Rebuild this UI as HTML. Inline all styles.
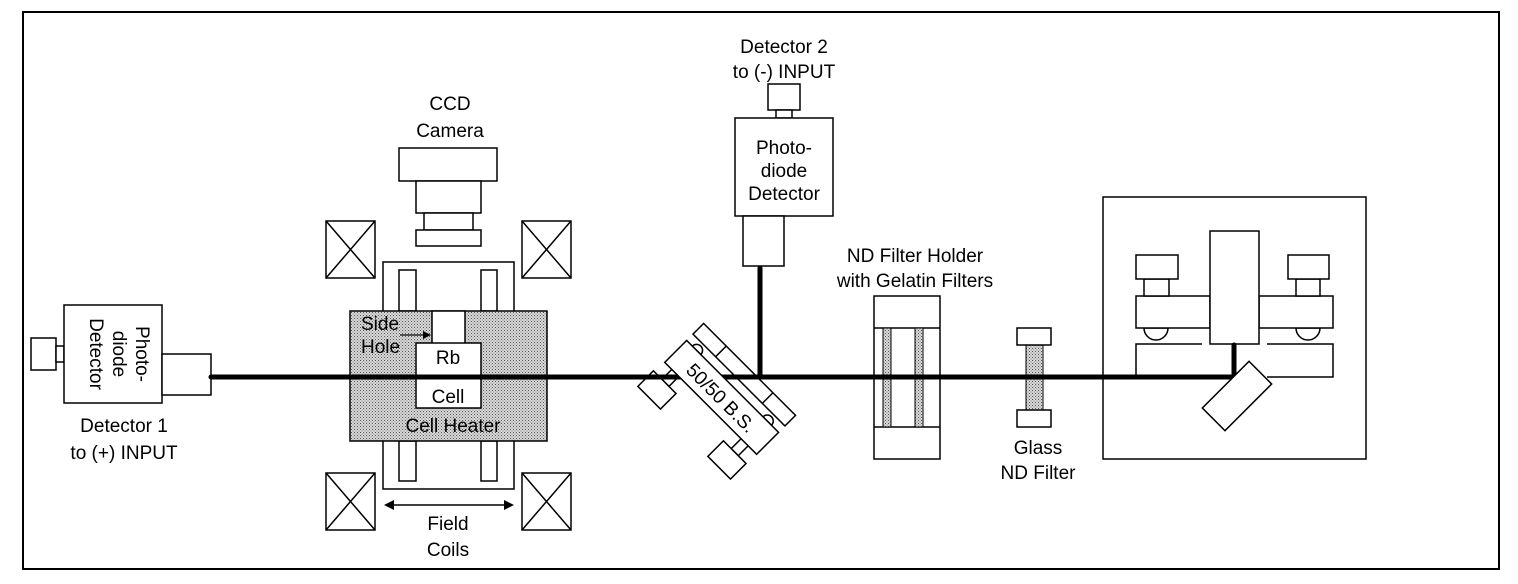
<!DOCTYPE html>
<html><head><meta charset="utf-8"><style>
html,body{margin:0;padding:0;background:#fff;}
svg{display:block;}
text{font-family:"Liberation Sans",Arial,sans-serif;font-size:19px;fill:#000;}
</style></head><body>
<svg width="1518" height="584" viewBox="0 0 1518 584" xmlns="http://www.w3.org/2000/svg">
<defs>
<pattern id="dots" width="3" height="3" patternUnits="userSpaceOnUse">
<rect width="3" height="3" fill="#d8d8d8"/><rect width="1" height="1" fill="#555"/><rect x="1.5" y="1.5" width="1" height="1" fill="#777"/>
</pattern>
</defs>
<g fill="none" stroke="#000" stroke-width="1.5">
<rect x="23" y="12" width="1476" height="557" stroke-width="2"/>

<rect x="31" y="338" width="25" height="32" fill="#fff"/>
<rect x="56" y="346" width="8" height="16" fill="#fff"/>
<rect x="64" y="305" width="98" height="98" fill="#fff"/>
<rect x="162" y="354" width="49" height="41" fill="#fff"/>

<rect x="399" y="148" width="98" height="33" fill="#fff"/>
<rect x="416" y="181" width="65" height="32" fill="#fff"/>
<rect x="424" y="213" width="49" height="17" fill="#fff"/>
<rect x="416" y="230" width="65" height="16" fill="#fff"/>

<rect x="326" y="221" width="49" height="57"/><path d="M326 221L375 278M375 221L326 278"/>
<rect x="522" y="221" width="49" height="57"/><path d="M522 221L571 278M571 221L522 278"/>
<rect x="326" y="473" width="49" height="57"/><path d="M326 473L375 530M375 473L326 530"/>
<rect x="522" y="473" width="49" height="57"/><path d="M522 473L571 530M571 473L522 530"/>

<rect x="383" y="262" width="131" height="227"/>
<rect x="399" y="270" width="17" height="41"/>
<rect x="481" y="270" width="16" height="41"/>
<rect x="399" y="441" width="17" height="40"/>
<rect x="481" y="441" width="16" height="40"/>
<rect x="350" y="311" width="197" height="130" fill="url(#dots)"/>
<rect x="432" y="311" width="33" height="33" fill="#fff"/>
<rect x="416" y="343" width="65" height="65" fill="#fff"/>
</g>
<path d="M392 505H506" stroke="#000" stroke-width="1.5"/>
<path d="M384 505L394 500V510Z M514 505L504 500V510Z" fill="#000"/>
<path d="M400 335H424" stroke="#000" stroke-width="1.3"/>
<path d="M431 335L423 331V339Z" fill="#000"/>

<g fill="#fff" stroke="#000" stroke-width="1.5">
<rect x="768" y="84" width="32" height="26"/>
<rect x="776" y="110" width="16" height="8"/>
<rect x="735" y="118" width="98" height="98"/>
<rect x="743" y="216" width="41" height="50"/>

<rect x="874" y="296" width="66" height="163"/>
<path d="M874 328H940M874 427H940" fill="none"/>
<rect x="883" y="328" width="8" height="99" fill="url(#dots)" stroke-width="1"/>
<rect x="915" y="328" width="8" height="99" fill="url(#dots)" stroke-width="1"/>

<rect x="1026" y="345" width="17" height="65" fill="url(#dots)" stroke-width="1"/>
<rect x="1017" y="328" width="34" height="17"/>
<rect x="1017" y="410" width="34" height="17"/>

<rect x="1103" y="197" width="263" height="262" fill="none"/>
<path d="M1136 377V344H1202M1267 344H1333V377H1267" fill="none"/>
<path d="M1144 328A12 12 0 0 0 1168 328Z M1296 328A12 12 0 0 0 1320 328Z"/>
<rect x="1136" y="296" width="74" height="32"/>
<rect x="1259" y="296" width="74" height="32"/>
<rect x="1144" y="279" width="25" height="17"/>
<rect x="1296" y="279" width="24" height="17"/>
<rect x="1136" y="255" width="42" height="24"/>
<rect x="1288" y="255" width="41" height="24"/>
<rect x="1210" y="231" width="49" height="113"/>
</g>

<!-- beam splitter -->
<g transform="translate(722,397) rotate(45)" fill="#fff" stroke="#000" stroke-width="1.5">
<rect x="-65" y="-39" width="130" height="15"/>
<path d="M-33 -39V-24M33 -39V-24" fill="none"/>
<path d="M-57 -15A6 6 0 0 1 -45 -15Z M43 -15A6 6 0 0 1 55 -15Z"/>
<rect x="-55" y="15" width="10" height="15"/>
<rect x="-67" y="30" width="32" height="22"/>
<rect x="43" y="15" width="10" height="15"/>
<rect x="32" y="30" width="32" height="22"/>
</g>

<g stroke="#000" stroke-width="5" fill="none" stroke-linecap="round">
<path d="M211 377H1234V345"/>
<path d="M760 268V377"/>
</g>
<g transform="translate(722,397) rotate(45)" fill="#fff" stroke="#000" stroke-width="1.5">
<rect x="-65" y="-15" width="130" height="31"/>
<text x="0" y="8" text-anchor="middle" stroke="none" fill="#000" font-size="21">50/50 B.S.</text>
</g>
<g transform="translate(1237,396) rotate(-45)" fill="#fff" stroke="#000" stroke-width="1.5">
<rect x="-33" y="-16" width="66" height="32"/>
</g>

<text x="448" y="403" text-anchor="middle">Cell</text>
<text x="448" y="364" text-anchor="middle">Rb</text>
<text x="453" y="432" text-anchor="middle">Cell Heater</text>
<text x="361" y="330" font-size="15">Side</text>
<text x="361" y="353" font-size="15">Hole</text>
<text x="448" y="530" text-anchor="middle">Field</text>
<text x="448" y="556" text-anchor="middle">Coils</text>
<text x="450" y="110" text-anchor="middle">CCD</text>
<text x="450" y="137" text-anchor="middle">Camera</text>
<text x="124" y="432" text-anchor="middle">Detector 1</text>
<text x="124" y="459" text-anchor="middle">to (+) INPUT</text>
<g transform="translate(113,354) rotate(90)">
<text x="0" y="-23" text-anchor="middle">Photo-</text>
<text x="0" y="0" text-anchor="middle">diode</text>
<text x="0" y="23" text-anchor="middle">Detector</text>
</g>
<text x="784" y="53" text-anchor="middle">Detector 2</text>
<text x="784" y="78" text-anchor="middle">to (-) INPUT</text>
<text x="784" y="154" text-anchor="middle">Photo-</text>
<text x="784" y="177" text-anchor="middle">diode</text>
<text x="784" y="200" text-anchor="middle">Detector</text>
<text x="915" y="262" text-anchor="middle">ND Filter Holder</text>
<text x="915" y="287" text-anchor="middle">with Gelatin Filters</text>
<text x="1038" y="454" text-anchor="middle">Glass</text>
<text x="1038" y="479" text-anchor="middle">ND Filter</text>
</svg>
</body></html>
